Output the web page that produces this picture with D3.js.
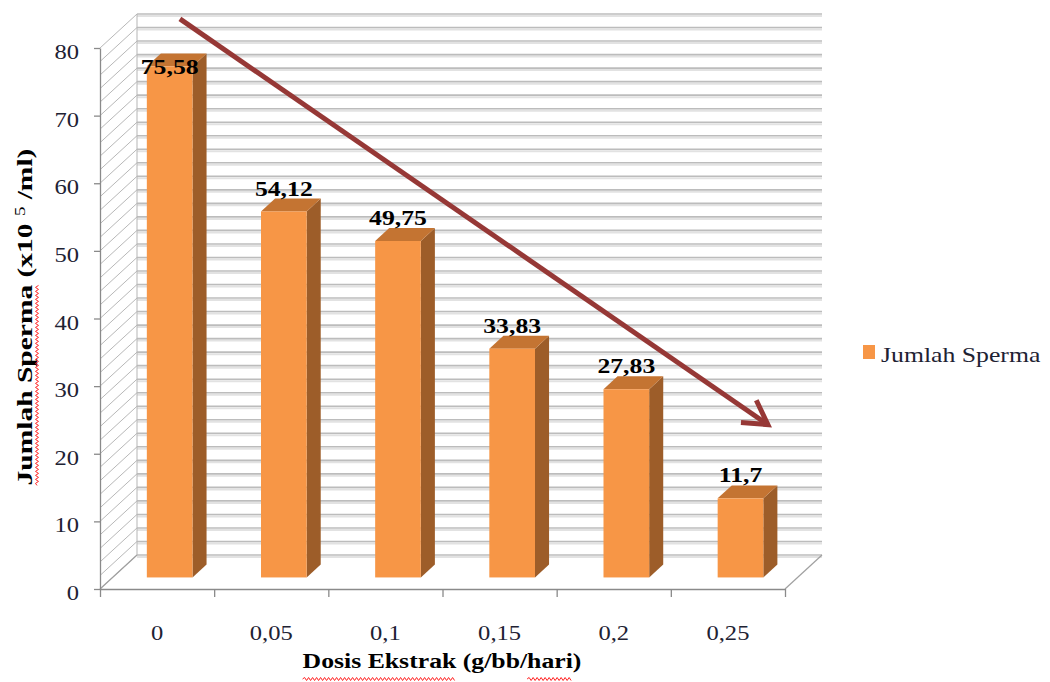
<!DOCTYPE html>
<html>
<head>
<meta charset="utf-8">
<script src="https://cdn.jsdelivr.net/npm/d3@7"></script>
<style>
  html, body { margin: 0; padding: 0; background: #ffffff; }
  svg { display: block; }
</style>
</head>
<body>
<svg id="chart" width="1050" height="682"></svg>
<script>
// ---- data ----
const categories = ["0", "0,05", "0,1", "0,15", "0,2", "0,25"];
const spermCount = [75.58, 54.12, 49.75, 33.83, 27.83, 11.7];
const yTickValues = [0, 10, 20, 30, 40, 50, 60, 70, 80];
const seriesName = "Jumlah Sperma";
const xTitle = "Dosis Ekstrak (g/bb/hari)";
// trend arrow endpoints as [category position (0..6), value]
const trendStart = [0.70, 84.3];
const trendEnd = [5.85, 24.3];

// ---- setup ----
const svg = d3.select("#chart");
const serif = "'Liberation Serif','Times New Roman',serif";
const STRETCH = 1.17;
const textColor = "#1e2233";

const y = d3.scaleLinear().domain([0, 80]).range([589, 48]);
const x = d3.scaleBand().domain(categories).range([100, 785]);
const xPos = d3.scaleLinear().domain([0, categories.length]).range(x.range());

const DX = 37, DY = -34;      // depth of the 3D box
const F0 = 0.34, F1 = 0.72;   // bar front / back depth fractions
const barW = x.bandwidth() * 0.4;
const left = x.range()[0], right = x.range()[1];

// ---- walls & floor ----
const walls = svg.append("g");
const gridVals = d3.range(0, 81, 2);

walls.selectAll("line.side").data(gridVals).join("line")
  .attr("class", "side")
  .attr("x1", left).attr("y1", d => y(d))
  .attr("x2", left + DX).attr("y2", d => y(d) + DY)
  .attr("stroke", "#b8b8b8").attr("stroke-width", 1);

walls.selectAll("line.shade").data(gridVals).join("line")
  .attr("class", "shade")
  .attr("x1", left + DX).attr("x2", right + DX)
  .attr("y1", d => y(d) + DY + 2).attr("y2", d => y(d) + DY + 2)
  .attr("stroke", "#e2e2e2").attr("stroke-width", 2);

walls.selectAll("line.grid").data(gridVals).join("line")
  .attr("class", "grid")
  .attr("x1", left + DX).attr("x2", right + DX)
  .attr("y1", d => y(d) + DY).attr("y2", d => y(d) + DY)
  .attr("stroke", "#bcbcbc").attr("stroke-width", 1.6);

walls.append("line")
  .attr("x1", left + DX).attr("x2", left + DX)
  .attr("y1", y(80) + DY).attr("y2", y(0) + DY)
  .attr("stroke", "#b5b5b5").attr("stroke-width", 1);

[left, right].forEach(px => {
  walls.append("line")
    .attr("x1", px).attr("y1", y(0))
    .attr("x2", px + DX).attr("y2", y(0) + DY)
    .attr("stroke", "#a0a0a0").attr("stroke-width", 1.2);
});

// ---- axes ----
const yAxis = svg.append("g")
  .attr("transform", `translate(${left},0)`)
  .call(d3.axisLeft(y).tickValues(yTickValues).tickSize(6).tickSizeOuter(0).tickPadding(12));
yAxis.select(".domain").attr("stroke", "#8a8a8a").attr("stroke-width", 1.3);
yAxis.selectAll(".tick line").attr("stroke", "#8a8a8a").attr("stroke-width", 1.3);
yAxis.selectAll(".tick text")
  .attr("font-family", serif).attr("font-size", 21).attr("fill", textColor)
  .attr("dy", "0.5em")
  .attr("transform", `scale(${STRETCH},1)`);

const xAxis = svg.append("g")
  .attr("transform", `translate(0,${y(0)})`)
  .call(d3.axisBottom(x).tickSize(0).tickPadding(36));
xAxis.select(".domain").attr("stroke", "#8a8a8a").attr("stroke-width", 1.3);
xAxis.selectAll(".tick text")
  .attr("font-family", serif).attr("font-size", 21).attr("fill", textColor)
  .attr("transform", `scale(${STRETCH},1)`);

const xTicks = svg.append("g")
  .attr("transform", `translate(0,${y(0)})`)
  .call(d3.axisBottom(xPos).tickValues(d3.range(0, categories.length + 1))
    .tickSize(8).tickSizeOuter(0).tickFormat(""));
xTicks.select(".domain").remove();
xTicks.selectAll(".tick line").attr("stroke", "#8a8a8a").attr("stroke-width", 1.3);

// ---- bars ----
const barData = categories.map((c, i) => ({ cat: c, value: spermCount[i] }));
const bars = svg.append("g");
const ddx = (F1 - F0) * DX, ddy = (F1 - F0) * DY;

barData.forEach(d => {
  const cx = x(d.cat) + x.bandwidth() / 2;
  const x0 = cx - barW / 2 + F0 * DX, x1 = x0 + barW;
  const yb = y(0) + F0 * DY, yt = y(d.value) + F0 * DY;
  const g = bars.append("g");
  g.append("polygon")
    .attr("points", [[x1, yt], [x1 + ddx, yt + ddy], [x1 + ddx, yb + ddy], [x1, yb]].join(" "))
    .attr("fill", "#9d5d29");
  g.append("polygon")
    .attr("points", [[x0, yt], [x1, yt], [x1 + ddx, yt + ddy], [x0 + ddx, yt + ddy]].join(" "))
    .attr("fill", "#c47432");
  g.append("rect")
    .attr("x", x0).attr("y", yt).attr("width", barW).attr("height", yb - yt)
    .attr("fill", "#f79646");
  const ly = Math.max(yt + ddy - 3, y(80) + 26);
  g.append("text")
    .attr("transform", `translate(${(x0 + x1) / 2},${ly}) scale(${STRETCH},1)`)
    .attr("text-anchor", "middle")
    .attr("font-family", serif).attr("font-size", 22).attr("font-weight", "bold")
    .attr("fill", "#000")
    .text(String(d.value).replace(".", ","));
});

// ---- trend arrow ----
const ax0 = xPos(trendStart[0]), ay0 = y(trendStart[1]);
const ax1 = xPos(trendEnd[0]), ay1 = y(trendEnd[1]);
const ang = Math.atan2(ay1 - ay0, ax1 - ax0);
const wing = 27, spread = Math.PI / 6;
const arrowColor = "#963836";
svg.append("line")
  .attr("x1", ax0).attr("y1", ay0).attr("x2", ax1).attr("y2", ay1)
  .attr("stroke", arrowColor).attr("stroke-width", 5);
svg.append("path")
  .attr("d", `M${ax1 - wing * Math.cos(ang - spread)},${ay1 - wing * Math.sin(ang - spread)}` +
             `L${ax1},${ay1}` +
             `L${ax1 - wing * Math.cos(ang + spread)},${ay1 - wing * Math.sin(ang + spread)}`)
  .attr("fill", "none").attr("stroke", arrowColor).attr("stroke-width", 5)
  .attr("stroke-linejoin", "miter");

// ---- wavy underline helper ----
function wavy(x0, x1, yy) {
  let d = `M${x0},${yy}`;
  let up = true;
  for (let px = x0 + 2; px <= x1; px += 2) {
    d += `L${px},${yy + (up ? -1.5 : 1.5)}`;
    up = !up;
  }
  return d;
}

// ---- x title ----
const xt = svg.append("text")
  .attr("transform", `translate(442,668) scale(${STRETCH},1)`)
  .attr("text-anchor", "middle")
  .attr("font-family", serif).attr("font-size", 22).attr("font-weight", "bold")
  .attr("fill", "#000")
  .text(xTitle);
{
  const node = xt.node();
  const total = node.getComputedTextLength();
  const start = 442 - total * STRETCH / 2;
  const w1 = node.getSubStringLength(0, 13) * STRETCH;
  const hIdx = xTitle.indexOf("hari");
  const hx = node.getSubStringLength(0, hIdx) * STRETCH;
  const hw = node.getSubStringLength(hIdx, 4) * STRETCH;
  svg.append("path").attr("d", wavy(start, start + w1, 679))
    .attr("fill", "none").attr("stroke", "#ff2020").attr("stroke-width", 1);
  svg.append("path").attr("d", wavy(start + hx, start + hx + hw, 679))
    .attr("fill", "none").attr("stroke", "#ff2020").attr("stroke-width", 1);
}

// ---- y title ----
const YS = 1.34;
const ytG = svg.append("g").attr("transform", "translate(32,317) rotate(-90)");
const yt = ytG.append("text")
  .attr("transform", `scale(${YS},1)`)
  .attr("text-anchor", "middle")
  .attr("font-family", serif).attr("font-size", 22).attr("font-weight", "bold")
  .attr("fill", "#000");
yt.append("tspan").text("Jumlah Sperma (x10 ");
yt.append("tspan").attr("dy", -7).attr("font-size", 14).attr("font-weight", "normal").text("5");
yt.append("tspan").attr("dy", 7).text(" /ml)");
{
  const node = yt.node();
  const total = node.getComputedTextLength();
  const start = -total * YS / 2;
  const w = node.getSubStringLength(0, 13) * YS;
  ytG.append("path").attr("d", wavy(start, start + w, 5))
    .attr("fill", "none").attr("stroke", "#ff2020").attr("stroke-width", 1);
}

// ---- legend ----
svg.append("rect").attr("x", 863).attr("y", 345).attr("width", 12).attr("height", 14)
  .attr("fill", "#f79646");
svg.append("text")
  .attr("transform", `translate(881,362) scale(${STRETCH},1)`)
  .attr("font-family", serif).attr("font-size", 22).attr("fill", textColor)
  .text(seriesName);
</script>
</body>
</html>
